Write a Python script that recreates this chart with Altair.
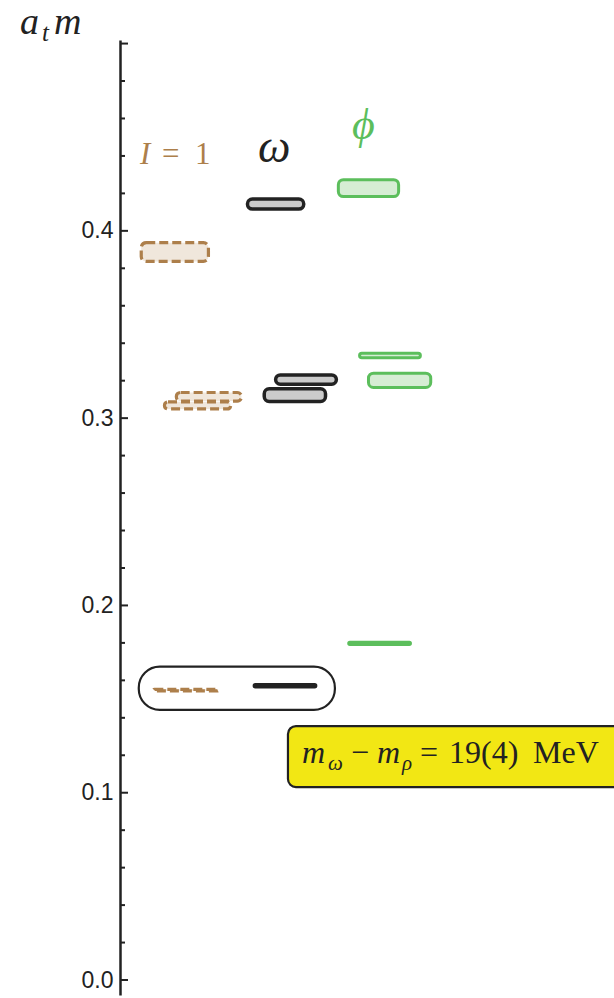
import altair as alt
import pandas as pd

# ---- data -------------------------------------------------------------
group = ["I1", "I1", "I1", "I1",
         "omega", "omega", "omega", "omega",
         "phi", "phi", "phi", "phi"]
mass = [0.3887, 0.3114, 0.3068, 0.1548,
        0.4143, 0.3206, 0.3123, 0.1571,
        0.4228, 0.3334, 0.3202, 0.1798]
err = [0.0050, 0.0023, 0.0019, 0.0004,
       0.0027, 0.0025, 0.0034, 0.0005,
       0.0045, 0.0012, 0.0038, 0.0006]
x_lo = [0.43, 1.14, 0.90, 0.68,
        2.58, 3.15, 2.92, 2.72,
        4.42, 4.85, 5.03, 4.63]
x_hi = [1.79, 2.46, 2.24, 1.99,
        3.72, 4.38, 4.16, 3.96,
        5.64, 6.08, 6.29, 5.88]

major_ticks = [0.0, 0.1, 0.2, 0.3, 0.4, 0.5]
minor_ticks = [0.02, 0.04, 0.06, 0.08, 0.12, 0.14, 0.16, 0.18,
               0.22, 0.24, 0.26, 0.28, 0.32, 0.34, 0.36, 0.38,
               0.42, 0.44, 0.46, 0.48]
tick_labels = [0.0, 0.1, 0.2, 0.3, 0.4]

# highlighted ground-state pair and the annotation box
pair_box = {"x": [0.38], "x2": [4.35], "y": [0.1673], "y2": [0.1442]}
note_box = {"x": [3.40], "x2": [10.6], "y": [0.1356], "y2": [0.1030]}

df = pd.DataFrame({"group": group, "mass": mass, "err": err,
                   "x_lo": x_lo, "x_hi": x_hi})
df["lo"] = df["mass"] - df["err"]
df["hi"] = df["mass"] + df["err"]

Y_DOMAIN = [-0.008, 0.5019]
yscale = alt.Scale(domain=Y_DOMAIN, nice=False, zero=False)
xscale = alt.Scale(domain=[0, 10], nice=False, zero=False)

BROWN, BROWN_FILL = "#AD7F4B", "#F0E7DC"
BLACK, GREY_FILL = "#222222", "#CBCBCB"
GREEN, GREEN_FILL = "#5CBE5C", "#D6EDD4"
SERIF = "Liberation Serif"

yaxis = alt.Axis(values=tick_labels, format=".1f", ticks=False, grid=False,
                 domainColor=BLACK, domainWidth=2.5, labelFontSize=23,
                 labelFont="Liberation Sans", labelColor=BLACK,
                 labelPadding=7, title=None)

base = alt.Chart(df)


def states(g, stroke, fill, width, dash=None):
    kw = dict(stroke=stroke, fill=fill, strokeWidth=width, cornerRadius=5)
    if dash:
        kw["strokeDash"] = dash
    return base.transform_filter(alt.datum.group == g).mark_rect(**kw).encode(
        x=alt.X("x_lo:Q", scale=xscale, axis=None),
        x2="x_hi:Q",
        y=alt.Y("lo:Q", scale=yscale, axis=yaxis),
        y2="hi:Q",
    )


brown = states("I1", BROWN, BROWN_FILL, 3.2, [9, 4])
black = states("omega", BLACK, GREY_FILL, 3.5)
green = states("phi", GREEN, GREEN_FILL, 3)

major = alt.Chart(pd.DataFrame({"v": major_ticks})).mark_rule(
    color=BLACK, strokeWidth=2).encode(
    y=alt.Y("v:Q", scale=yscale, axis=yaxis), x=alt.value(0), x2=alt.value(8))
minor = alt.Chart(pd.DataFrame({"v": minor_ticks})).mark_rule(
    color=BLACK, strokeWidth=2).encode(
    y=alt.Y("v:Q", scale=yscale, axis=yaxis), x=alt.value(0), x2=alt.value(5))

pair = alt.Chart(pd.DataFrame(pair_box)).mark_rect(
    fill=None, fillOpacity=0, stroke=BLACK, strokeWidth=2.2, cornerRadius=21).encode(
    x=alt.X("x:Q", scale=xscale, axis=None), x2="x2:Q",
    y=alt.Y("y:Q", scale=yscale, axis=yaxis), y2="y2:Q")

note = alt.Chart(pd.DataFrame(note_box)).mark_rect(
    fill="#F2E714", stroke=BLACK, strokeWidth=2.2, cornerRadius=8).encode(
    x=alt.X("x:Q", scale=xscale, axis=None), x2="x2:Q",
    y=alt.Y("y:Q", scale=yscale, axis=yaxis), y2="y2:Q")

OX, OY = 120, 40  # plot origin inside the page


def txt(s, x, y, size, color=BLACK, italic=False, font=SERIF):
    kw = dict(align="left", baseline="alphabetic", fontSize=size,
              font=font, color=color)
    if italic:
        kw["fontStyle"] = "italic"
    return alt.Chart(pd.DataFrame({"t": [s]})).mark_text(**kw).encode(
        text="t:N", x=alt.value(x - OX), y=alt.value(y - OY))


texts = [
    # axis title a_t m
    txt("a", 20, 34, 38, italic=True),
    txt("t", 42, 41, 25, italic=True),
    txt("m", 54, 34, 38, italic=True),
    # column labels
    txt("I", 140, 164, 31, BROWN, italic=True),
    txt("=", 162, 164, 31, BROWN),
    txt("1", 195, 164, 31, BROWN),
    txt("ω", 258, 162, 46, italic=True),
    txt("ϕ", 352, 139, 44, GREEN, italic=True),
    # annotation
    txt("m", 302, 763, 32, italic=True),
    txt("ω", 328, 770, 21, italic=True),
    txt("−", 351, 763, 32),
    txt("m", 377, 763, 32, italic=True),
    txt("ρ", 402, 770, 21, italic=True),
    txt("=", 420, 763, 32),
    txt("19(4)", 449, 763, 32),
    txt("MeV", 533, 763, 32),
]

chart = alt.layer(major, minor, brown, black, green, pair, note, *texts).properties(
    width=494, height=955,
    autosize=alt.AutoSizeParams(type="none"),
    padding={"left": OX, "top": OY, "right": 0, "bottom": 3},
).configure_view(stroke=None)

chart.save("out.html", embed_options={"renderer": "svg", "actions": False})
